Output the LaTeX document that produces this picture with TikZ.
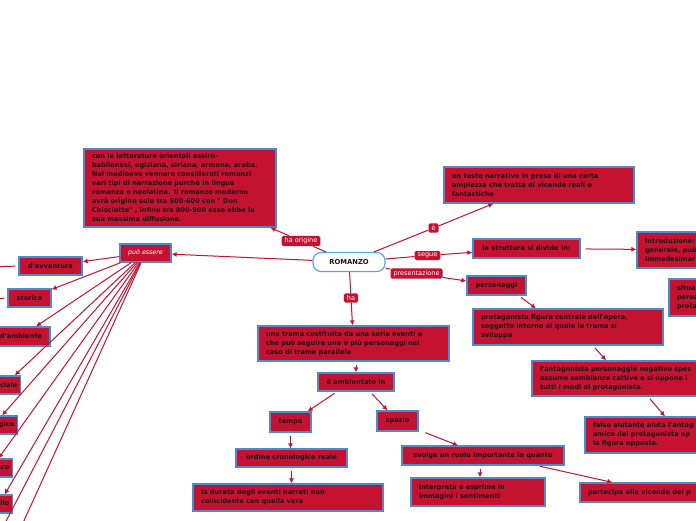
\documentclass[tikz,border=0pt]{standalone}
\usepackage{fontspec}
\newfontfamily\mapfont{DejaVu Sans}
\usetikzlibrary{arrows.meta}

\definecolor{mapred}{RGB}{196,18,48}
\definecolor{mapblue}{RGB}{74,140,205}
\definecolor{maptext}{RGB}{30,20,25}
\definecolor{rootblue}{RGB}{80,170,230}

\tikzset{
    topic/.style={draw=mapblue, fill=mapred, line width=1.2pt, text=maptext,
        font=\mapfont\bfseries\fontsize{6.6}{9}\selectfont, inner sep=0pt},
    note/.style={topic, align=left, inner xsep=8pt, inner ysep=3pt},
    linklbl/.style={fill=mapred, text=white, rounded corners=1.5pt,
        font=\mapfont\fontsize{6.5}{7}\selectfont, inner xsep=3pt, inner ysep=2pt},
    link/.style={draw=mapred, line width=1pt},
    tip/.style={-{Latex[length=5pt,width=5pt]}},
    arr/.style={link, tip, shorten <=3pt}
}

\begin{document}
\begin{tikzpicture}[x=1pt, y=-1pt]
    % Canvas of the screenshot
    \useasboundingbox (0,0) rectangle (696,520);
    \fill[white] (0,0) rectangle (696,520);
    \clip (0,0) rectangle (696,520);

    % Central topic
    \node[topic, rounded corners=8pt, fill=white, draw=rootblue, minimum width=72pt, minimum height=19pt,
        font=\mapfont\bfseries\fontsize{6.8}{8}\selectfont] (romanzo) at (349,262) {ROMANZO};

    % Labels on the links
    \node[linklbl] (haorigine) at (301,241) {ha origine};
    \node[linklbl] (e) at (433.5,228) {è};
    \node[linklbl] (segue) at (427.5,255.5) {segue};
    \node[linklbl] (presentazione) at (416.5,273.5) {presentazione};
    \node[linklbl] (ha) at (351,298) {ha};

    % Upper boxes
    \node[note, text width=176pt, minimum height=78pt] (origine) at (180,188)
        {con le letterature orientali assiro-\\babilonesi, egiziana, siriana, armena, araba.\\Nel medioevo vennero considerati romanzi\\vari tipi di narrazione purchè in lingua\\romanza o neolatina. Il romanzo moderno\\avrà origine solo tra 500-600 con " Don\\Chisciotte" , infine tra 800-900 esso ebbe la\\sua massima diffusione.};
    \node[note, text width=174pt, minimum height=36pt] (testo) at (539,185)
        {un testo narrativo in prosa di una certa\\ampiezza che tratta di vicende reali o\\fantastiche};

    % Right branch
    \node[topic, minimum width=107pt, minimum height=19pt] (struttura) at (526.5,248.5) {la struttura si divide in:};
    \node[note, text width=154pt, minimum height=36pt] (intro) at (722,250)
        {Introduzione:\\generale, può\\immedesimar};
    \node[note, text width=154pt, minimum height=37pt] (situa) at (754,297.5)
        {situa\\perso\\prota};
    \node[topic, minimum width=59pt, minimum height=19pt] (personaggi) at (496.5,285.5) {personaggi};
    \node[note, text width=174pt, minimum height=36pt] (protagonista) at (568,327)
        {protagonista figura centrale dell'opera,\\soggetto intorno al quale la trama si\\sviluppa};
    \node[note, text width=174pt, minimum height=35pt] (antagonista) at (627,378.5)
        {l'antagonista personaggio negativo spes\\assume semblanze cattive e si oppone i\\tutti i modi al protagonista.};
    \node[note, text width=174pt, minimum height=36pt] (falso) at (680,435)
        {falso aiutante aiuta l'antag\\amico del protagonista op\\la figura opposta.};

    % Lower branch
    \node[note, text width=175pt, minimum height=35pt] (trama) at (353.5,343.5)
        {una trama costituita da una serie eventi e\\che può seguire uno o più personaggi nel\\caso di trame parallele};
    \node[topic, minimum width=76pt, minimum height=18pt] (ambientato) at (356,382) {è ambientato in};
    \node[topic, minimum width=41pt, minimum height=20pt] (tempo) at (290.5,422) {tempo};
    \node[topic, minimum width=41pt, minimum height=20pt] (spazio) at (397.5,421) {spazio};
    \node[topic, minimum width=111pt, minimum height=18pt] (ordine) at (291.5,458) {ordine cronologico reale};
    \node[note, text width=174pt, minimum height=27pt] (durata) at (288,497.5)
        {la durata degli eventi narrati non\\coincidente con quella vera};
    \node[topic, minimum width=162pt, minimum height=19pt] (svolge) at (483,455.5) {svolge un ruolo importante in quanto};
    \node[note, text width=118pt, minimum height=28pt] (interpreta) at (478,492)
        {interpreta e esprime in\\immagini i sentimenti};
    \node[note, text width=174pt, minimum height=19pt] (partecipa) at (675,492.5) {partecipa alle vicende del p};

    % Left branch
    \node[topic, minimum width=51pt, minimum height=18pt, text=white,
        font=\mapfont\itshape\fontsize{6.3}{7}\selectfont] (puo) at (145.5,253) {può essere};
    \node[topic, minimum width=63pt, minimum height=18pt] (avventura) at (50.5,266) {d'avventura};
    \node[topic, minimum width=43pt, minimum height=18pt] (storico) at (29.5,298) {storico};
    \node[topic, minimum width=58pt, minimum height=19pt] (ambiente) at (21,336.5) {d'ambiente};
    \node[topic, minimum height=18pt, inner xsep=3pt, anchor=east] (sociale) at (21,385) {sociale};
    \node[topic, minimum height=18pt, inner xsep=3pt, anchor=east] (psicologico) at (18,425) {psicologico};
    \node[topic, minimum height=18pt, inner xsep=3pt, anchor=east] (picaresco) at (13,468) {picaresco};
    \node[topic, minimum height=18pt, inner xsep=3pt, anchor=east] (giallo) at (13,504) {giallo};
    \coordinate (fanA) at (-12,600);
    \coordinate (fanB) at (-35,600);
    \coordinate (avvout) at (-10,267);
    \coordinate (stoout) at (-10,299);

    % Links from the central topic
    \draw[link] (romanzo) -- (haorigine);
    \draw[link, tip] (haorigine) -- (origine);
    \draw[link] (romanzo) -- (e);
    \draw[link, tip] (e) -- (testo);
    \draw[link] (romanzo) -- (segue);
    \draw[link, tip] (segue) -- (struttura);
    \draw[link] (romanzo) -- (presentazione);
    \draw[link, tip] (presentazione) -- (personaggi);
    \draw[link] (romanzo) -- (ha);
    \draw[link, tip] (ha) -- (trama);
    \draw[link, tip] (romanzo) -- (puo);

    % Fan of kinds
    \foreach \kind in {avventura, storico, ambiente, sociale, psicologico, picaresco, giallo, fanA, fanB}
        {
            \draw[link, tip] (puo) -- (\kind);
        }
    \draw[link, shorten <=3pt] (avventura.west) -- (avvout);
    \draw[link, shorten <=3pt] (storico.west) -- (stoout);

    % Right arrows
    \draw[arr, shorten <=5pt] (struttura) -- (intro);
    \draw[arr] ([xshift=-8pt]personaggi.south east) -- ([xshift=-32pt]protagonista.north);
    \draw[arr] ([xshift=25pt]protagonista.south) -- ([xshift=-21pt]antagonista.north);
    \draw[arr] ([xshift=21pt]antagonista.south) -- ([xshift=-15pt]falso.north);

    % Lower arrows
    \draw[arr] (ambientato.north |- trama.south) -- (ambientato.north);
    \draw[arr] ([xshift=-19pt]ambientato.south) -- ([xshift=-4pt]tempo.north east);
    \draw[arr] ([xshift=14pt]ambientato.south) -- ([xshift=-10pt]spazio.north);
    \draw[arr] (tempo.south) -- (tempo.south |- ordine.north);
    \draw[arr] (ordine.south) -- (ordine.south |- durata.north);
    \draw[arr] ([xshift=4pt]spazio.south east) -- ([xshift=-25pt]svolge.north);
    \draw[arr] ([xshift=-3pt]svolge.south) -- ([xshift=-3pt]svolge.south |- interpreta.north);
    \draw[arr] ([xshift=54pt]svolge.south) -- ([xshift=33pt]partecipa.north west);

\end{tikzpicture}
\end{document}
